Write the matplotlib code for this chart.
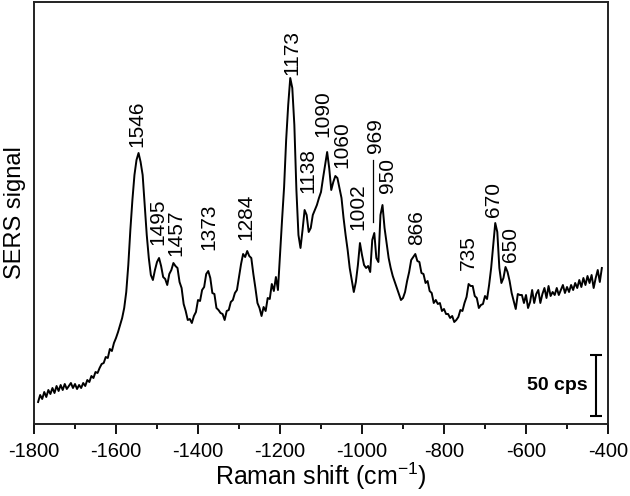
import numpy as np
import matplotlib.pyplot as plt
from matplotlib.ticker import MultipleLocator

plt.rcParams['font.family'] = ['Liberation Sans', 'DejaVu Sans']
plt.rcParams['mathtext.fontset'] = 'custom'
plt.rcParams['mathtext.rm'] = 'Liberation Sans'
plt.rcParams['axes.unicode_minus'] = False

# SERS spectrum, sampled every 5 cm-1 (intensity in arbitrary units)
shift = np.arange(-1790, -410, 5)
intensity = [
    22, 29, 25, 32, 27, 34, 30, 36, 31, 38,
    33, 39, 34, 40, 35, 38, 41, 36, 40, 35,
    39, 36, 41, 38, 44, 42, 48, 46, 52, 51,
    56, 60, 61, 67, 66, 75, 73, 81, 86, 92,
    99, 106, 116, 132, 159, 194, 224, 249, 264, 271,
    262, 249, 219, 189, 166, 149, 144, 154, 162, 166,
    158, 147, 145, 139, 150, 154, 161, 158, 156, 142,
    136, 120, 113, 104, 105, 101, 108, 112, 124, 123,
    134, 137, 150, 153, 146, 131, 130, 116, 114, 111,
    110, 104, 113, 114, 122, 124, 131, 134, 147, 160,
    170, 167, 173, 168, 166, 150, 136, 121, 116, 108,
    117, 113, 126, 125, 140, 133, 147, 134, 169, 204,
    237, 284, 319, 346, 336, 299, 234, 189, 176, 194,
    214, 209, 192, 196, 209, 214, 219, 226, 232, 246,
    259, 272, 256, 234, 242, 248, 246, 236, 226, 206,
    189, 174, 156, 144, 132, 142, 159, 181, 169, 159,
    156, 158, 152, 184, 191, 166, 162, 209, 219, 196,
    181, 166, 156, 148, 142, 136, 130, 124, 126, 132,
    143, 152, 164, 167, 170, 163, 162, 151, 150, 141,
    143, 133, 131, 121, 124, 120, 121, 113, 115, 110,
    110, 106, 108, 102, 104, 107, 114, 113, 121, 127,
    140, 138, 138, 128, 126, 116, 119, 120, 128, 125,
    139, 156, 179, 201, 192, 156, 141, 146, 157, 152,
    143, 131, 123, 115, 130, 129, 129, 121, 129, 116,
    122, 134, 121, 130, 134, 121, 130, 136, 126, 138,
    128, 132, 129, 136, 129, 134, 139, 131, 137, 132,
    139, 134, 141, 136, 144, 137, 146, 139, 148, 141,
    149, 136, 146, 154, 142, 156,
]

# peak assignments
peak_labels = ['1546', '1495', '1457', '1373', '1284', '1173', '1138', '1090',
               '1060', '1002', '969', '950', '866', '735', '670', '650']
label_x = [-1549, -1498, -1454, -1373, -1283, -1171, -1132, -1095,
           -1049, -1010, -968, -939, -866, -741, -680, -639]
label_y = [277, 179, 168, 174, 184, 349, 231, 287,
           256, 194, 271, 231, 179, 154, 207, 162]

scale_cps = '50 cps'

fig = plt.figure(figsize=(6.3, 4.96), dpi=100)
ax = fig.add_axes([34 / 630, 72 / 496, 574 / 630, 422 / 496])

ax.plot(shift, intensity, color='black', lw=1.4)

for lab, x, y in zip(peak_labels, label_x, label_y):
    ax.text(x, y, lab, rotation=90, ha='center', va='bottom', fontsize=15)

# leader line for 969
ax.plot([-973, -973], [202, 264], color='black', lw=0.9)

# scale bar
ax.errorbar([-429], [38.5], yerr=[[30.5], [30.5]], fmt='none', ecolor='black',
            elinewidth=1.5, capsize=4.5, capthick=1.5)
ax.text(-449, 38, scale_cps, ha='right', va='center', fontsize=14, fontweight='bold')

ax.set_xlim(-1800, -400)
ax.set_ylim(0, 422)
ax.xaxis.set_major_locator(MultipleLocator(200))
ax.xaxis.set_minor_locator(MultipleLocator(100))
ax.set_yticks([])
ax.tick_params(axis='x', which='major', length=7, width=1.3, labelsize=14.5, pad=6)
ax.tick_params(axis='x', which='minor', length=3.5, width=1.3)
for sp in ax.spines.values():
    sp.set_linewidth(1.4)
    sp.set_color('#222222')

ax.set_xlabel('Raman shift (cm$^{-1}$)', fontsize=18, labelpad=0)
ax.set_ylabel('SERS signal', fontsize=17, labelpad=6)

fig.savefig('out.png', dpi=100)
